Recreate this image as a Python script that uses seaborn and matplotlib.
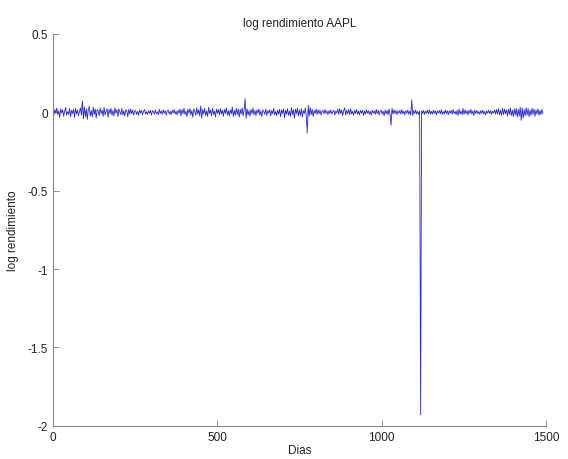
import numpy as np
import pandas as pd
import matplotlib
matplotlib.use("Agg")
import matplotlib.pyplot as plt
import seaborn as sns

log_rend = [
    0.012, -0.021, 0.018, -0.006, 0.027, -0.015, 0.009, -0.031, 0.022, -0.004,
    0.016, -0.025, 0.008, 0.031, -0.019, 0.005, -0.012, 0.024, -0.028, 0.013,
    -0.007, 0.019, -0.033, 0.026, -0.011, 0.015, -0.022, 0.006, 0.029, -0.018,
    0.072, -0.041, 0.035, -0.027, 0.021, -0.045, 0.018, 0.038, -0.024, 0.011,
    -0.029, 0.034, -0.013, 0.022, -0.036, 0.017, 0.008, -0.021, 0.028, -0.009,
    0.014, -0.026, 0.031, -0.017, 0.006, 0.023, -0.032, 0.019, -0.008, 0.025,
    -0.019, 0.012, -0.024, 0.029, -0.006, 0.017, -0.027, 0.021, 0.004, -0.015,
    0.026, -0.018, 0.009, -0.023, 0.016, 0.011, -0.028, 0.019, -0.012, 0.022,
    -0.009, 0.014, -0.017, 0.008, 0.011, -0.013, 0.006, -0.019, 0.015, -0.004,
    0.012, -0.016, 0.007, 0.018, -0.011, 0.004, -0.014, 0.009, -0.006, 0.013,
    -0.018, 0.011, 0.005, -0.012, 0.016, -0.008, 0.003, -0.015, 0.019, -0.007,
    0.009, -0.013, 0.017, -0.005, 0.011, -0.019, 0.008, 0.014, -0.010, 0.006,
    -0.015, 0.012, -0.004, 0.018, -0.011, 0.007, -0.016, 0.013, -0.006, 0.021,
    -0.023, 0.017, -0.009, 0.026, -0.014, 0.008, -0.028, 0.019, -0.005, 0.024,
    -0.017, 0.011, -0.031, 0.022, 0.006, -0.019, 0.029, -0.012, 0.016, -0.024,
    0.041, -0.036, 0.018, -0.011, 0.025, -0.021, 0.009, -0.027, 0.032, -0.008,
    0.015, -0.022, 0.027, -0.013, 0.007, -0.029, 0.021, -0.006, 0.018, -0.016,
    0.024, -0.011, 0.013, -0.025, 0.019, -0.007, 0.028, -0.018, 0.010, -0.023,
    0.016, -0.009, 0.034, -0.027, 0.012, -0.019, 0.026, -0.014, 0.021, -0.031,
    0.018, -0.012, 0.029, -0.022, 0.014, 0.088, -0.038, 0.023, -0.017, 0.011,
    -0.024, 0.019, -0.008, 0.027, -0.015, 0.012, -0.021, 0.016, -0.006, 0.022,
    -0.018, 0.009, -0.026, 0.015, 0.007, -0.013, 0.021, -0.019, 0.011, -0.005,
    0.017, -0.023, 0.012, -0.009, 0.025, -0.016, 0.006, -0.021, 0.014, -0.011,
    0.019, -0.028, 0.016, -0.007, 0.022, -0.035, 0.013, -0.012, 0.024, -0.019,
    0.008, -0.026, 0.031, -0.014, 0.017, -0.038, 0.021, -0.009, 0.027, -0.023,
    0.015, -0.019, 0.024, -0.031, 0.012, -0.008, 0.028, -0.021, -0.132, 0.046,
    -0.024, 0.031, -0.015, 0.019, -0.027, 0.011, -0.006, 0.021, -0.013, 0.016,
    -0.009, 0.014, -0.018, 0.007, 0.012, -0.011, 0.019, -0.006, 0.009, -0.015,
    0.011, -0.007, 0.016, -0.012, 0.005, 0.013, -0.018, 0.008, -0.004, 0.021,
    -0.013, 0.024, -0.009, 0.015, -0.021, 0.011, 0.029, -0.017, 0.012, -0.008,
    0.017, -0.014, 0.022, -0.011, 0.006, -0.019, 0.013, -0.007, 0.018, -0.012,
    0.009, -0.016, 0.012, -0.005, 0.014, -0.021, 0.008, -0.011, 0.016, -0.006,
    0.011, -0.013, 0.007, -0.018, 0.013, -0.004, 0.009, -0.014, 0.019, -0.008,
    0.012, -0.017, 0.006, 0.014, -0.011, 0.008, -0.022, 0.015, -0.009, 0.013,
    -0.016, 0.021, -0.012, -0.083, 0.027, -0.011, 0.016, -0.008, 0.012, -0.014,
    0.009, -0.006, 0.013, -0.011, 0.017, -0.009, 0.007, -0.015, 0.011, -0.005,
    0.014, -0.012, 0.008, -0.017, 0.079, -0.021, 0.012, -0.008, 0.015, -0.011,
    0.006, -0.013, 0.009, -1.930, 0.011, -0.007, 0.012, -0.014, 0.008, -0.005,
    0.013, -0.009, 0.016, -0.012, 0.007, -0.011, 0.014, -0.006, 0.010, -0.015,
    0.008, -0.004, 0.012, -0.009, 0.017, -0.013, 0.006, -0.011, 0.015, -0.007,
    0.011, -0.016, 0.009, -0.005, 0.013, -0.012, 0.018, -0.008, 0.006, -0.014,
    0.012, -0.019, 0.021, -0.011, 0.008, -0.015, 0.024, -0.013, 0.016, -0.009,
    0.011, -0.017, 0.013, -0.006, 0.019, -0.012, 0.008, -0.021, 0.015, -0.007,
    0.012, -0.009, 0.005, -0.013, 0.011, -0.007, 0.014, -0.011, 0.006, -0.016,
    0.009, -0.005, 0.013, -0.008, 0.011, -0.014, 0.007, -0.004, 0.016, -0.012,
    0.018, -0.011, 0.023, -0.016, 0.012, -0.019, 0.026, -0.014, 0.021, -0.009,
    0.017, -0.024, 0.019, -0.013, 0.028, -0.021, 0.014, -0.027, 0.022, -0.016,
    0.025, -0.031, 0.019, -0.023, 0.032, -0.051, 0.027, -0.036, 0.018, -0.022,
    0.029, -0.017, 0.024, -0.028, 0.013, -0.019, 0.026, -0.012, 0.021, -0.025,
    0.016, -0.011, 0.022, -0.018, 0.012, -0.014, 0.019, -0.008,
]
paso_dias = 3
dias = [i * paso_dias for i in range(len(log_rend))]

x_ticks = [0, 500, 1000, 1500]
y_ticks = [-2, -1.5, -1, -0.5, 0, 0.5]
y_tick_labels = ["-2", "-1.5", "-1", "-0.5", "0", "0.5"]

sns.set_style("white")
plt.rcParams["font.family"] = ["Liberation Sans", "DejaVu Sans"]

df = pd.DataFrame({"Dias": dias, "log rendimiento": log_rend})

fig = plt.figure(figsize=(5.68, 4.6), dpi=100)
ax = fig.add_axes([0.093, 0.072, 0.868, 0.852])
sns.lineplot(data=df, x="Dias", y="log rendimiento", ax=ax,
             color="#2828d8", linewidth=0.6, estimator=None, sort=False)

ax.set_xlim(0, 1500)
ax.set_ylim(-2, 0.5)
ax.set_xticks(x_ticks)
ax.set_xticklabels([str(t) for t in x_ticks])
ax.set_yticks(y_ticks)
ax.set_yticklabels(y_tick_labels)
ax.tick_params(direction="in", length=4, width=0.6, color="#808080",
               labelsize=8.5, labelcolor="#222222", left=True, bottom=True)
for s in ["top", "right"]:
    ax.spines[s].set_visible(False)
for s in ["left", "bottom"]:
    ax.spines[s].set_color("#8a8a8a")
    ax.spines[s].set_linewidth(0.8)

ax.set_title("log rendimiento AAPL", fontsize=8.5, color="#222222", pad=6)
ax.set_xlabel("Dias", fontsize=8.5, color="#222222", labelpad=1)
ax.set_ylabel("log rendimiento", fontsize=8.5, color="#222222", labelpad=6)

fig.savefig("out.png", dpi=100)
